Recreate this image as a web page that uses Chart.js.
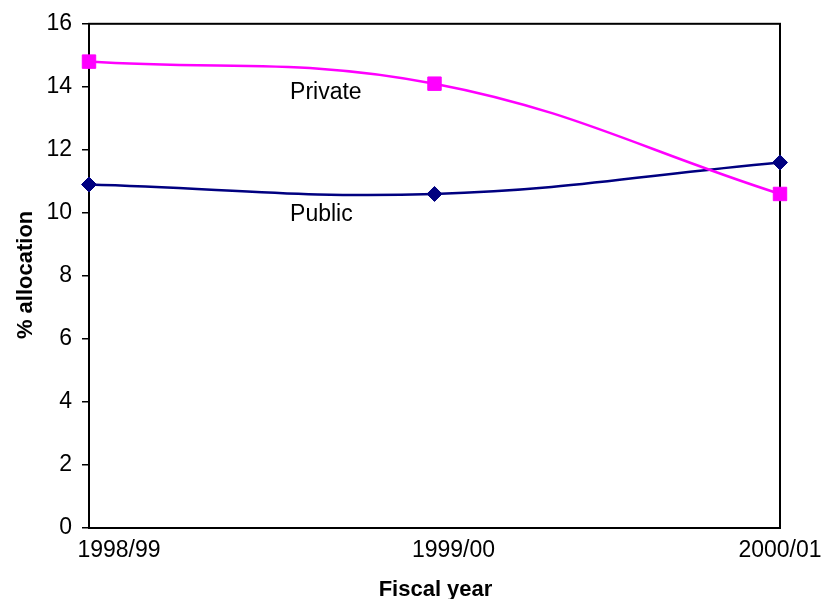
<!DOCTYPE html>
<html>
<head>
<meta charset="utf-8">
<script src="https://cdn.jsdelivr.net/npm/chart.js@4/dist/chart.umd.min.js"></script>
<style>
  html, body { margin: 0; padding: 0; background: #ffffff; }
  #wrap { width: 825px; height: 599px; }
</style>
</head>
<body>
<div id="wrap"><canvas id="c" width="825" height="599"></canvas></div>
<script>
// Fiscal years on the x axis
const years = ['1998/99', '1999/00', '2000/01'];
// Percentage allocation by sector
const privateAlloc = [14.8, 14.1, 10.6];
const publicAlloc = [10.9, 10.6, 11.6];
// Y axis range and step
const yMin = 0;
const yMax = 16;
const yStep = 2;

const FONT = '"Liberation Sans", Arial, Helvetica, sans-serif';

// Frame, category labels, series names and axis titles
const decorations = {
  id: 'decorations',
  beforeDatasetsDraw(chart) {
    const ctx = chart.ctx;
    const a = chart.chartArea;
    ctx.save();
    ctx.strokeStyle = '#000000';
    ctx.lineWidth = 2;
    ctx.strokeRect(a.left, a.top, a.right - a.left, a.bottom - a.top);
    ctx.restore();
  },
  afterDraw(chart) {
    const ctx = chart.ctx;
    const a = chart.chartArea;
    const xs = chart.scales.x;
    const ys = chart.scales.y;
    ctx.save();
    // category labels under the axis
    ctx.fillStyle = '#000000';
    ctx.font = '23px ' + FONT;
    ctx.textAlign = 'center';
    ctx.textBaseline = 'alphabetic';
    const shifts = [30, 19, 0];
    years.forEach((y, i) => {
      ctx.fillText(y, xs.getPixelForValue(i) + shifts[i], a.bottom + 29);
    });

    // series names beside the curves
    ctx.textAlign = 'left';
    ctx.textBaseline = 'middle';
    ctx.fillText('Private', xs.getPixelForValue(0.582), ys.getPixelForValue(13.8));
    ctx.fillText('Public', xs.getPixelForValue(0.582), ys.getPixelForValue(9.95));

    // axis titles
    ctx.font = 'bold 22px ' + FONT;
    ctx.textAlign = 'center';
    ctx.textBaseline = 'alphabetic';
    ctx.fillText('Fiscal year', (a.left + a.right) / 2 + 1, 596);
    ctx.translate(32, (a.top + a.bottom) / 2 - 1);
    ctx.rotate(-Math.PI / 2);
    ctx.fillText('% allocation', 0, 0);
    ctx.restore();
  }
};

new Chart(document.getElementById('c'), {
  type: 'line',
  data: {
    labels: years,
    datasets: [
      {
        label: 'Private',
        data: privateAlloc,
        borderColor: '#ff00ff',
        backgroundColor: '#ff00ff',
        borderWidth: 2.5,
        tension: 0.4,
        pointStyle: 'rect',
        pointRadius: 9.5,
        pointBorderWidth: 1,
        pointBackgroundColor: '#ff00ff',
        pointBorderColor: '#ff00ff',
        clip: false
      },
      {
        label: 'Public',
        data: publicAlloc,
        borderColor: '#000080',
        backgroundColor: '#000080',
        borderWidth: 2.5,
        tension: 0.4,
        pointStyle: 'rectRot',
        pointRadius: 7.5,
        pointBorderWidth: 1,
        pointBackgroundColor: '#000080',
        pointBorderColor: '#000080',
        clip: false
      }
    ]
  },
  options: {
    responsive: false,
    animation: false,
    devicePixelRatio: 1,
    layout: { padding: { top: 20, right: 45, bottom: 0, left: 0 } },
    plugins: {
      legend: { display: false },
      tooltip: { enabled: false }
    },
    scales: {
      x: {
        type: 'category',
        offset: false,
        grid: { display: false, drawTicks: false },
        border: { display: false },
        ticks: { display: false },
        afterFit(scale) { scale.height = 71; }
      },
      y: {
        min: yMin,
        max: yMax,
        grid: {
          display: true,
          drawOnChartArea: false,
          drawTicks: true,
          tickLength: 7,
          color: '#000000',
          lineWidth: 1.5
        },
        border: { display: false },
        ticks: {
          stepSize: yStep,
          padding: 10,
          color: '#000000',
          font: { family: FONT, size: 23 }
        },
        afterFit(scale) { scale.width = 89; }
      }
    }
  },
  plugins: [decorations]
});
</script>
</body>
</html>
